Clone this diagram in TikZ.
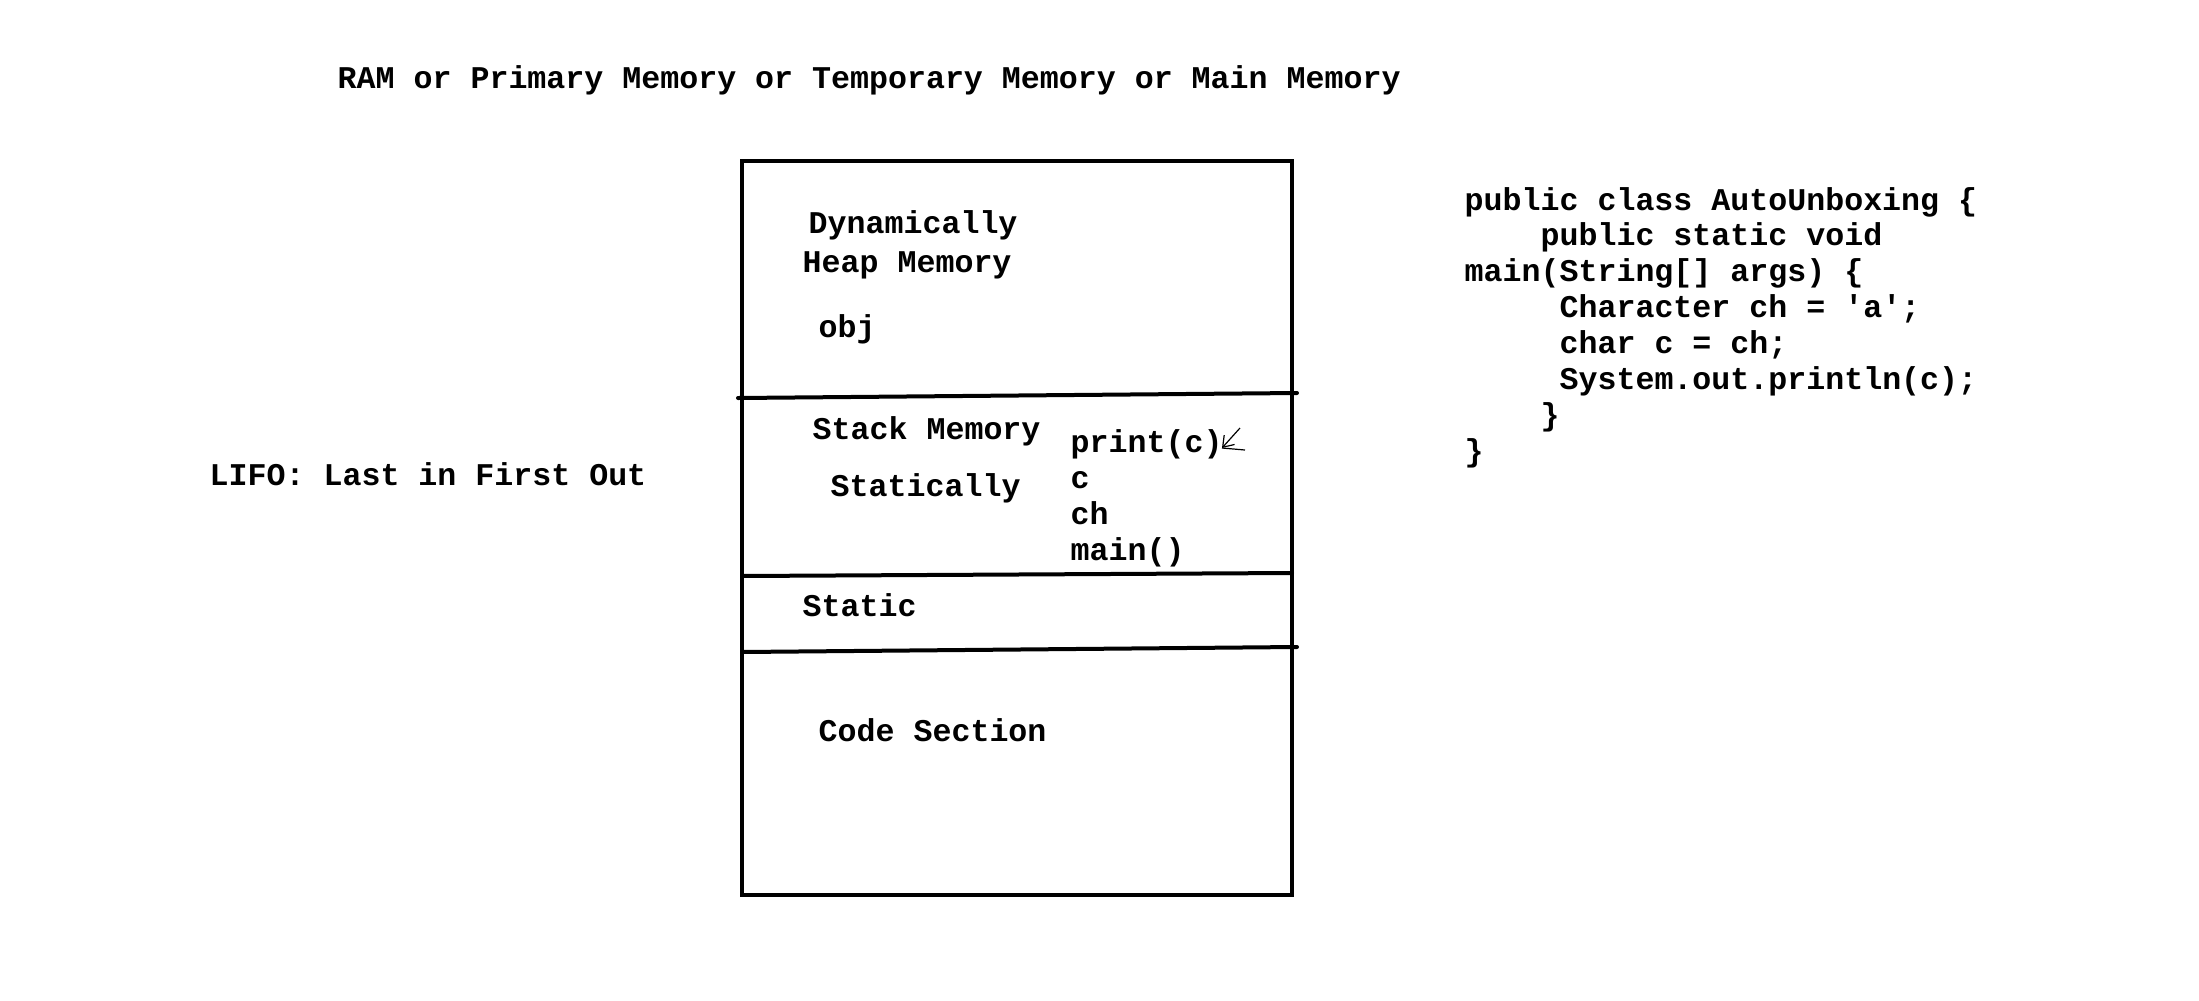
\documentclass[tikz,border=0pt]{standalone}
\usepackage{fontspec}
\usetikzlibrary{arrows.meta,positioning}
\newfontfamily\codefont{Liberation Mono}

\begin{document}
\begin{tikzpicture}[
  x=0.1mm, y=-0.1mm,
  >=Stealth,
  txt/.style={font=\codefont\bfseries\fontsize{9pt}{10.2pt}\selectfont,
    inner sep=0pt, anchor=base west},
  codeblock/.style={txt, align=left},
  wall/.style={draw=black, line width=0.4mm},
  divider/.style={draw=black, line width=0.4mm, line cap=round},
  scribble/.style={draw=black, line width=0.12mm}
]
\useasboundingbox (0,0) rectangle (2199,1000);

% heading
\node[txt] (title) at (337,88)
  {RAM or Primary Memory or Temporary Memory or Main Memory};

\node[txt] (lifo) at (209,485) {LIFO: Last in First Out};

% memory box
\draw[wall] (742,161) rectangle (1292,895);
\draw[divider] (738,398) -- (1297,393);
\draw[divider] (742,576) -- (1292,573);
\draw[divider] (742,652) -- (1297,647);

% heap
\node[txt] (dyn) at (808,233) {Dynamically};
\node[txt] (heap) at (802,272) {Heap Memory};
\node[txt] (obj) at (818,337) {obj};

% stack
\node[txt] (stack) at (812,439) {Stack Memory};
\node[txt] (statically) at (830,496) {Statically};
\node[txt] (print) at (1070,452) {print(c)};
\node[txt] (cvar) at ([yshift=-3.6mm]print.base west) {c};
\node[txt] (chvar) at ([yshift=-3.6mm]cvar.base west) {ch};
\node[txt] (mainf) at ([yshift=-3.6mm]chvar.base west) {main()};

\coordinate (pentail) at (1240,428);
\coordinate (pentip) at (1222,448);
\coordinate (penflick) at (1245,450);
\draw[scribble, -{Straight Barb[length=1mm,width=1.4mm]}] (pentail) -- (pentip);
\draw[scribble] (pentip) -- (penflick);

% static + code
\node[txt] (static) at (802,616) {Static};
\node[txt] (codesec) at (818,741) {Code Section};

% java source (base = last line)
\node[codeblock] (src) at (1464,461)
  {public class AutoUnboxing \{\\
   \phantom{0000}public static void\\
   main(String[] args) \{\\
   \phantom{00000}Character ch = 'a';\\
   \phantom{00000}char c = ch;\\
   \phantom{00000}System.out.println(c);\\
   \phantom{0000}\}\\
   \}};
\end{tikzpicture}
\end{document}
